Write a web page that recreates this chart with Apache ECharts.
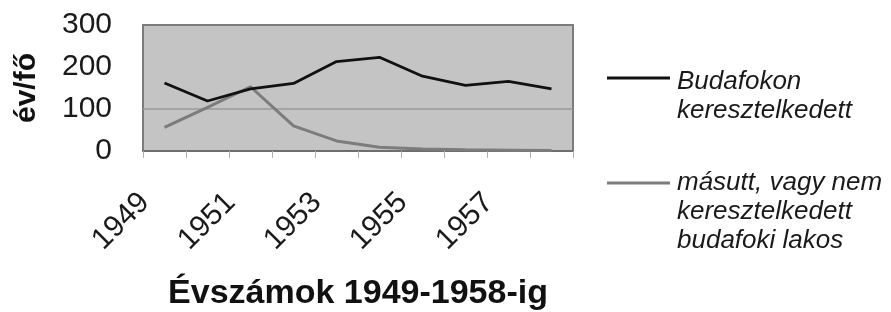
<!DOCTYPE html>
<html>
<head>
<meta charset="utf-8">
<script src="https://cdn.jsdelivr.net/npm/echarts@6/dist/echarts.min.js"></script>
<style>
  html, body { margin: 0; padding: 0; background: #fff; }
  #main { width: 891px; height: 312px; }
</style>
</head>
<body>
<div id="main"></div>
<script>
// évszámok (kategóriák)
var years = ['1949', '1950', '1951', '1952', '1953', '1954', '1955', '1956', '1957', '1958'];
// Budafokon keresztelkedett
var budafokon = [162, 119, 148, 161, 213, 223, 178, 156, 166, 148];
// másutt, vagy nem keresztelkedett budafoki lakos
var masutt = [56, 104, 153, 60, 24, 9, 5, 3, 2, 1];
var yTicks = [0, 100, 200, 300];

var font = 'Liberation Sans, Arial, sans-serif';
var chart = echarts.init(document.getElementById('main'));

chart.setOption({
    animation: false,
    grid: {
        left: 143, right: 318, top: 25, bottom: 160,
        show: true,
        backgroundColor: '#c4c4c4',
        borderColor: '#7c7c7c',
        borderWidth: 2
    },
    xAxis: {
        type: 'category',
        data: years,
        boundaryGap: true,
        name: 'Évszámok 1949-1958-ig',
        nameLocation: 'middle',
        nameGap: 126,
        nameTextStyle: { fontFamily: font, fontSize: 34, fontWeight: 'bold', color: '#111' },
        axisLine: { lineStyle: { color: '#6e6e6e', width: 2 } },
        axisTick: { show: true, interval: 0, length: 7, lineStyle: { color: '#b0b0b0' } },
        axisLabel: {
            interval: 1,
            rotate: 45,
            margin: 27,
            padding: [0, 28, 0, 0],
            fontFamily: font,
            fontSize: 30,
            color: '#1a1a1a'
        },
        splitLine: { show: false }
    },
    yAxis: {
        type: 'value',
        min: yTicks[0],
        max: yTicks[yTicks.length - 1],
        interval: 100,
        name: 'év/fő',
        nameLocation: 'middle',
        nameRotate: 90,
        nameGap: 101,
        nameTextStyle: { fontFamily: font, fontSize: 30, fontWeight: 'bold', color: '#111' },
        axisLine: { show: false },
        axisTick: { show: false },
        axisLabel: { margin: 31, fontFamily: font, fontSize: 30, color: '#1a1a1a' },
        // csak a 100-as rácsvonal látszik
        splitLine: {
            show: true,
            lineStyle: { color: ['transparent', '#9a9a9a', 'transparent', 'transparent'], width: 1.5 }
        }
    },
    series: [
        {
            name: 'Budafokon keresztelkedett',
            type: 'line',
            data: budafokon,
            symbol: 'none',
            lineStyle: { color: '#111', width: 2.8 },
            z: 3
        },
        {
            name: 'másutt, vagy nem keresztelkedett budafoki lakos',
            type: 'line',
            data: masutt,
            symbol: 'none',
            lineStyle: { color: '#7c7c7c', width: 3 },
            z: 2
        }
    ],
    graphic: [
        { type: 'line', shape: { x1: 607, y1: 78, x2: 670, y2: 78 }, style: { stroke: '#111', lineWidth: 3 } },
        {
            type: 'text', left: 677, top: 67,
            style: { text: 'Budafokon\nkeresztelkedett', font: 'italic 26px ' + font, lineHeight: 29, fill: '#1a1a1a' }
        },
        { type: 'line', shape: { x1: 607, y1: 183, x2: 670, y2: 183 }, style: { stroke: '#7c7c7c', lineWidth: 3 } },
        {
            type: 'text', left: 677, top: 168,
            style: { text: 'másutt, vagy nem\nkeresztelkedett\nbudafoki lakos', font: 'italic 26px ' + font, lineHeight: 29, fill: '#1a1a1a' }
        }
    ]
});
</script>
</body>
</html>
